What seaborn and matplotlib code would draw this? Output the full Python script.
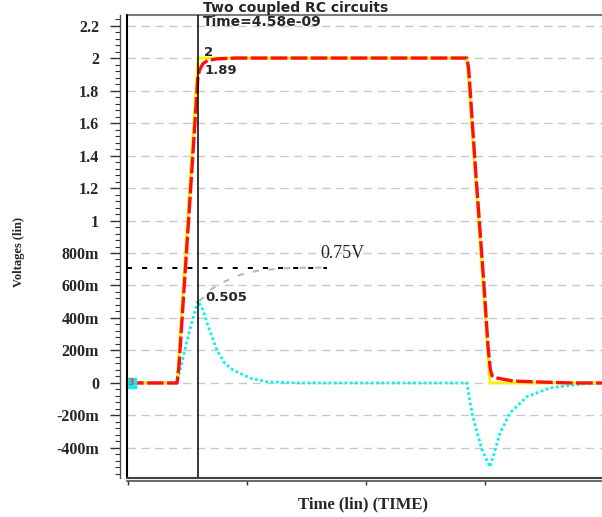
import matplotlib
matplotlib.use('Agg')
import matplotlib.pyplot as plt
import seaborn as sns
from matplotlib.ticker import MultipleLocator, FixedLocator

# time in ns, voltages in V
t_in = [0, 3.23, 4.58, 21.94, 23.42, 30.7]
v_in = [0, 0, 2.0, 2.0, 0, 0]

t_out = [0, 3.23, 3.35, 3.8, 4.2, 4.58, 4.7, 4.9, 5.2, 5.8, 7.0, 21.94, 22.05, 22.5,
         23.0, 23.3, 23.45, 23.55, 23.9, 24.9, 26.6, 28.7, 30.7]
v_out = [0, 0, 0.1, 0.75, 1.33, 1.89, 1.93, 1.965, 1.985, 1.995, 2.0, 2.0, 1.93, 1.3,
         0.65, 0.22, 0.08, 0.045, 0.03, 0.012, 0.006, 0.0, 0.0]

t_cpl = [0, 3.23, 3.87, 4.26, 4.58, 4.9, 5.16, 5.81, 6.32, 6.84, 7.94, 9.03, 11.0,
         21.94, 22.1, 22.32, 22.9, 23.42, 23.7, 24.06, 24.71, 25.8, 27.3, 29.4, 30.7]
v_cpl = [0, 0, 0.26, 0.40, 0.505, 0.45, 0.37, 0.20, 0.12, 0.08, 0.03, 0.008, 0.0,
         0.0, -0.1, -0.21, -0.41, -0.517, -0.43, -0.31, -0.185, -0.085, -0.03, -0.006, -0.003]

t_ref = [4.65, 4.9, 5.35, 6.19, 7.29, 8.39, 9.42, 10.52, 11.61, 12.9]
v_ref = [0.505, 0.523, 0.572, 0.62, 0.665, 0.69, 0.70, 0.708, 0.71, 0.71]

ref_level = 0.71
ref_end = 12.9
t_cursor = 4.58

ytick_vals = [-0.4, -0.2, 0, 0.2, 0.4, 0.6, 0.8, 1.0, 1.2, 1.4, 1.6, 1.8, 2.0, 2.2]
ytick_labels = ['-400m', '-200m', '0', '200m', '400m', '600m', '800m',
                '1', '1.2', '1.4', '1.6', '1.8', '2', '2.2']
xtick_vals = [0.06, 7.74, 15.42, 23.1]

sns.set_style('white')
plt.rcParams['font.family'] = ['DejaVu Sans']

fig = plt.figure(figsize=(6.02, 5.17), dpi=100)
ax = fig.add_axes([127 / 602, 39 / 517, 475 / 602, 463 / 517])

# spines first (moving a spine resets the ticks)
ax.spines['left'].set_position(('outward', 5))
ax.spines['bottom'].set_position(('outward', 2.5))
ax.spines['left'].set_color('#505050')
ax.spines['bottom'].set_color('#505050')
ax.spines['left'].set_linewidth(1)
ax.spines['bottom'].set_linewidth(1.2)
ax.spines['top'].set_color('#7a7a7a')
ax.spines['top'].set_linewidth(1.5)
ax.spines['right'].set_visible(False)

# waveforms
sns.lineplot(x=t_cpl, y=v_cpl, ax=ax, color='#10eef0', linewidth=2.0,
             linestyle=(0, (1, 0.9)), zorder=3)
sns.lineplot(x=t_in, y=v_in, ax=ax, color='#ffee00', linewidth=2.0, zorder=4)
sns.lineplot(x=t_out, y=v_out, ax=ax, color='#ff1010', linewidth=2.4,
             linestyle=(0, (5, 1)), zorder=5)
sns.lineplot(x=t_ref, y=v_ref, ax=ax, color='#b8b8b8', linewidth=1.5,
             linestyle=(0, (3, 4.5)), zorder=3)
ax.plot([0, ref_end], [ref_level, ref_level], color='black', linewidth=1.45,
        linestyle=(0, (2.5, 5)), zorder=3)

# trace marker at the left edge
ax.plot([0.26], [0], marker='s', markersize=7.5, color='#10eef0', zorder=6, clip_on=False)
ax.text(0.26, 0, '3', color='#ff3030', fontsize=5.5, fontweight='bold',
        ha='center', va='center', zorder=7)

# cursor
ax.axvline(t_cursor, color='black', linewidth=1.1, zorder=6)
ax.annotate('Time=4.58e-09', xy=(t_cursor, 1), xycoords=('data', 'axes fraction'),
            xytext=(5, -7.5), textcoords='offset pixels', ha='left', va='center',
            fontsize=10, fontweight='bold')
ax.annotate('2', xy=(t_cursor, 2.0), xytext=(6, 6), textcoords='offset pixels',
            ha='left', va='center', fontsize=9.5, fontweight='bold')
ax.annotate('1.89', xy=(t_cursor, 1.89), xytext=(7, 5), textcoords='offset pixels',
            ha='left', va='center', fontsize=9.5, fontweight='bold')
ax.annotate('0.505', xy=(t_cursor, 0.505), xytext=(7, 3), textcoords='offset pixels',
            ha='left', va='center', fontsize=9.5, fontweight='bold')
ax.text(12.45, 0.794, '0.75V', family='Liberation Serif', fontsize=13,
        ha='left', va='center')

# axes limits and ticks
ax.set_xlim(0, 30.65)
ax.set_ylim(-0.585, 2.265)
ax.yaxis.set_major_locator(FixedLocator(ytick_vals))
ax.set_yticklabels(ytick_labels, fontfamily='Liberation Serif', fontweight='bold')
ax.yaxis.set_minor_locator(MultipleLocator(0.04))
ax.xaxis.set_major_locator(FixedLocator(xtick_vals))
ax.tick_params(axis='y', which='major', direction='out', length=7, width=1,
               pad=8, labelsize=11.5, color='#303030', left=True)
ax.tick_params(axis='y', which='minor', direction='out', length=3.6, width=0.8,
               color='#303030', left=True)
ax.tick_params(axis='x', which='major', direction='out', length=3, width=1,
               color='#303030', bottom=True, labelbottom=False)
for lab in ax.get_yticklabels():
    lab.set_fontfamily('Liberation Serif')
    lab.set_fontweight('bold')

ax.grid(axis='y', color='#c8c8c8', linewidth=1, linestyle=(0, (6, 4)))
ax.set_axisbelow(True)

# plot frame (left and bottom) inside the offset axes
ax.plot([0, 0], [0, 1], transform=ax.transAxes, color='black', linewidth=1.5,
        clip_on=False, zorder=6)
ax.plot([0, 1], [0, 0], transform=ax.transAxes, color='#404040', linewidth=1.5,
        clip_on=False, zorder=6)

ax.set_title('Two coupled RC circuits', x=0.356, pad=2.5, fontsize=10, fontweight='bold')
ax.set_xlabel('Time (lin) (TIME)', family='Liberation Serif', fontsize=12, fontweight='bold')
ax.xaxis.set_label_coords(0.497, -0.040)
ax.set_ylabel('Voltages (lin)', family='Liberation Serif', fontsize=9, fontweight='bold')
ax.yaxis.set_label_coords(-0.2147, 0.488)

fig.savefig('out.png', dpi=100)
